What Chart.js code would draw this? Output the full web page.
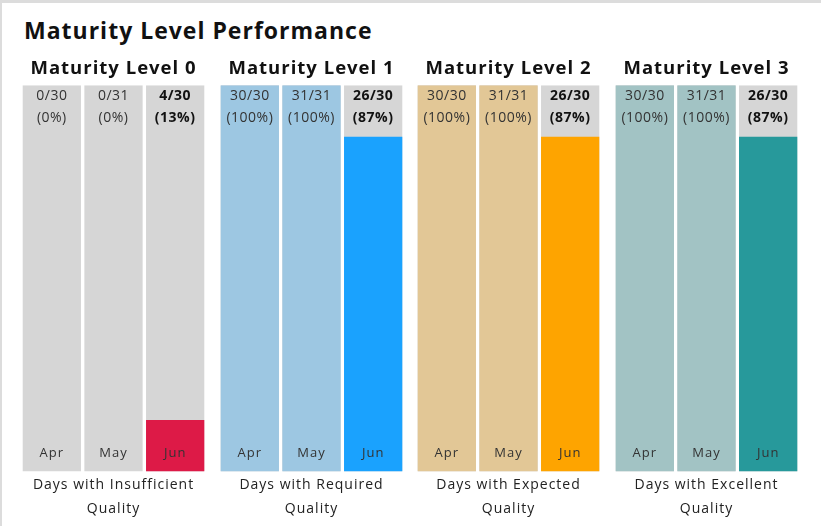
<!DOCTYPE html>
<html>
<head>
<meta charset="utf-8">
<script src="https://cdn.jsdelivr.net/npm/chart.js@4.4.1/dist/chart.umd.min.js"></script>
<style>
  body { margin: 0; background: #fff; font-family: "Open Sans", sans-serif; }
  #card { position: absolute; left: 0; top: 0; width: 821px; height: 526px; box-sizing: border-box;
          border-top: 3px solid #dcdcdc; border-left: 2px solid #dcdcdc; }
  #title { position: absolute; left: 22px; top: 11px; font-size: 23px; font-weight: bold; color: #111; letter-spacing: 1px; }
  .panel { position: absolute; top: 52px; width: 185px; height: 474px; }
</style>
</head>
<body>
<div id="card">
  <div id="title">Maturity Level Performance</div>
</div>
<div class="panel" style="left:21px"><canvas id="c0"></canvas></div>
<div class="panel" style="left:219px"><canvas id="c1"></canvas></div>
<div class="panel" style="left:416px"><canvas id="c2"></canvas></div>
<div class="panel" style="left:614px"><canvas id="c3"></canvas></div>
<script>
// months shown in every panel
const months = ["Apr", "May", "Jun"];
const monthDays = [30, 31, 30];

const levelTitles = ["Maturity Level 0", "Maturity Level 1", "Maturity Level 2", "Maturity Level 3"];
const levelCaptions = [
    ["Days with Insufficient", "Quality"],
    ["Days with Required", "Quality"],
    ["Days with Expected", "Quality"],
    ["Days with Excellent", "Quality"]
];

// days per month in each level
const level0Days = [0, 0, 4];
const level1Days = [30, 31, 26];
const level2Days = [30, 31, 26];
const level3Days = [30, 31, 26];
const levelDays = [level0Days, level1Days, level2Days, level3Days];

// pale colour for past months, strong colour for current month
const paleColors = ["#d6d6d6", "#9dc7e2", "#e2c796", "#a2c3c4"];
const strongColors = ["#dd1a47", "#1aa2fe", "#fea400", "#27999b"];
const bgGray = "#d6d6d6";

// the original font is wider, so spread the letters a bit
const spacing = {
    id: 'spacing',
    beforeDraw(chart) {
        chart.ctx.letterSpacing = '1px';
    }
};

const barLabels = {
    id: 'barLabels',
    afterDatasetsDraw(chart) {
        const ctx = chart.ctx;
        const meta = chart.getDatasetMeta(1);
        const days = chart.options.plugins.barLabels.days;
        const top = chart.chartArea.top;
        const bottom = chart.chartArea.bottom;
        ctx.save();
        ctx.letterSpacing = '0.5px';
        ctx.textAlign = 'center';
        ctx.textBaseline = 'middle';
        meta.data.forEach((bar, i) => {
            const cur = i === months.length - 1;
            const pct = Math.round(days[i] / monthDays[i] * 100);
            ctx.fillStyle = cur ? '#111' : '#333';
            ctx.font = (cur ? 'bold ' : '') + '14px "Open Sans", sans-serif';
            ctx.fillText(days[i] + '/' + monthDays[i], bar.x, top + 11);
            ctx.fillText('(' + pct + '%)', bar.x, top + 33);
            ctx.letterSpacing = '1px';
            ctx.font = '13px "Open Sans", sans-serif';
            ctx.fillStyle = '#333';
            ctx.fillText(months[i], bar.x, bottom - 18);
            ctx.letterSpacing = '0.5px';
        });
        ctx.restore();
    }
};

function buildPanel(n) {
    const days = levelDays[n];
    const pct = days.map((d, i) => d / monthDays[i] * 100);
    const colors = months.map((m, i) => i === months.length - 1 ? strongColors[n] : paleColors[n]);
    new Chart(document.getElementById('c' + n), {
        type: 'bar',
        data: {
            labels: months,
            datasets: [{
                data: months.map(() => 100),
                backgroundColor: bgGray,
                grouped: false,
                order: 2,
                categoryPercentage: 1,
                barPercentage: 0.945
            }, {
                data: pct,
                backgroundColor: colors,
                grouped: false,
                order: 1,
                categoryPercentage: 1,
                barPercentage: 0.945
            }]
        },
        options: {
            responsive: true,
            maintainAspectRatio: false,
            animation: false,
            layout: { padding: 0 },
            scales: {
                x: {
                    grid: { display: false, drawTicks: false },
                    border: { display: false },
                    ticks: { display: false },
                    title: {
                        display: true,
                        text: levelCaptions[n],
                        color: '#222',
                        font: { size: 14, family: 'Open Sans', lineHeight: 1.7 },
                        padding: { top: 2, bottom: 5 }
                    }
                },
                y: { display: false, min: 0, max: 100 }
            },
            plugins: {
                legend: { display: false },
                tooltip: { enabled: false },
                title: {
                    display: true,
                    text: levelTitles[n],
                    color: '#111',
                    font: { size: 18.5, weight: 'bold', family: 'Open Sans' },
                    padding: { top: 6, bottom: 5 }
                },
                barLabels: { days: days }
            }
        },
        plugins: [spacing, barLabels]
    });
}

for (let n = 0; n < 4; n++) buildPanel(n);
</script>
</body>
</html>
